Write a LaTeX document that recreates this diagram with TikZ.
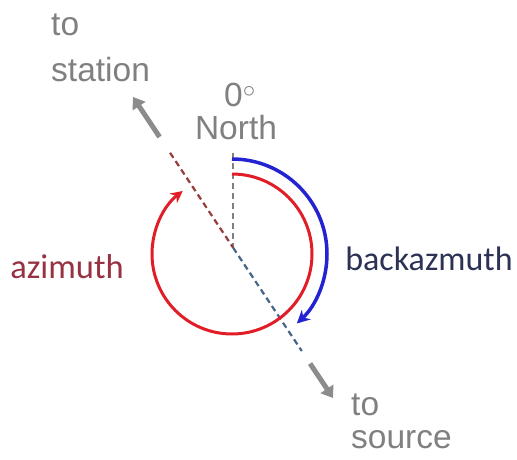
\documentclass[tikz,border=0pt]{standalone}
\usepackage{fontspec}
\setmainfont{Liberation Sans}
\newfontfamily\carlitofont{Carlito}
\usetikzlibrary{arrows.meta,calc}
\definecolor{txtgray}{RGB}{128,128,128}
\definecolor{azred}{RGB}{150,50,65}
\definecolor{bazblue}{RGB}{45,50,85}
\definecolor{arcred}{RGB}{225,30,40}
\definecolor{arcblue}{RGB}{35,35,210}
\definecolor{dashred}{RGB}{150,60,60}
\definecolor{dashblue}{RGB}{70,100,135}
\definecolor{arrgray}{RGB}{140,140,140}
\begin{document}
\begin{tikzpicture}[x=1pt,y=1pt,
  graytxt/.style={text=txtgray,font=\fontsize{33.5}{33.5}\selectfont,anchor=west,inner sep=0pt},
  dirarrow/.style={draw=arrgray,line width=5pt,-{Triangle[width=15pt,length=11pt]}},
  dashline/.style={line width=2.2pt,dash pattern=on 6pt off 4pt},
  arcline/.style={line width=3pt}]
\useasboundingbox (0,0) rectangle (517,459);
% geometry (y up)
\coordinate (C) at (232,205);
\coordinate (ST) at (133,362);
\coordinate (SO) at (333,61);
\coordinate (X) at ($(ST)!181/361.4!(SO)$);
\coordinate (N) at (233,306);
\coordinate (NX) at (233,211);
\coordinate (sttail) at ($(ST)!48/361.4!(SO)$);
\coordinate (rdstart) at ($(ST)!67/361.4!(SO)$);
\coordinate (bdend) at ($(ST)!305/361.4!(SO)$);
\coordinate (sotail) at ($(ST)!320/361.4!(SO)$);
% dashed lines
\draw[dashline,draw=txtgray] (N) -- (NX);
\draw[dashline,draw=dashred] (rdstart) -- (X);
\draw[dashline,draw=dashblue] (X) -- (bdend);
% direction arrows
\draw[dirarrow] (sttail) -- (ST);
\draw[dirarrow] (sotail) -- (SO);
% arcs
\draw[arcline,draw=arcred,-{Stealth[length=12pt,width=12pt]}] ($(C)+(90:80)$) arc[start angle=90,end angle=-232,radius=80];
\draw[line width=3.5pt,draw=arcblue,-{Stealth[length=13pt,width=13pt]}] ($(C)+(90:95)$) arc[start angle=90,end angle=-47,radius=95];
% labels
\node[graytxt] (to1) at (51,434) {to};
\node[graytxt] (station) at (51,389) {station};
\node[text=txtgray,font=\fontsize{33.5}{33.5}\selectfont,inner sep=0pt] (zero) at (240,364) {0$^{\circ}$};
\node[text=txtgray,font=\fontsize{33.5}{33.5}\selectfont,inner sep=0pt] (north) at (236,331) {North};
\node[text=azred,font=\carlitofont\fontsize{34.5}{34.5}\selectfont,inner sep=0pt] (az) at (67,192) {azimuth};
\node[text=bazblue,font=\carlitofont\fontsize{34}{34}\selectfont,inner sep=0pt] (baz) at (429,200) {backazmuth};
\node[graytxt] (to2) at (351,54) {to};
\node[graytxt] (source) at (351,19) {source};
\end{tikzpicture}
\end{document}
